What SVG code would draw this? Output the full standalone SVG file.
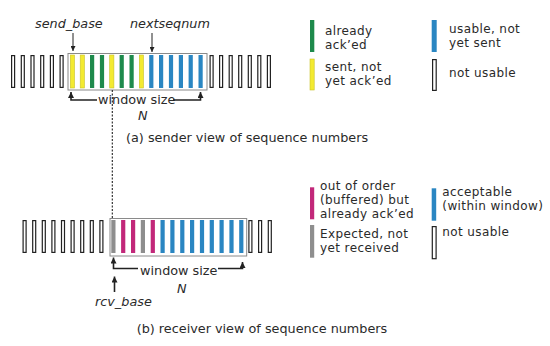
<svg xmlns="http://www.w3.org/2000/svg" width="550" height="346" viewBox="0 0 550 346">
<defs>
<style>
text{font-family:"DejaVu Sans","Liberation Sans",sans-serif;font-size:12.8px;fill:#2a2a2a}
.lg{font-size:12px;letter-spacing:0.4px}
.it{font-style:italic}
.nu{fill:#fff;stroke:#222;stroke-width:1.2}
.g{fill:#1e8a4c}
.y{fill:#f3ea30;stroke:#c9c22a;stroke-width:0.6}
.b{fill:#2a86c2}
.m{fill:#c2287a}
.gr{fill:#8e8e8e}
.box{fill:none;stroke:#8a8a8a;stroke-width:1}
.ln{fill:none;stroke:#222;stroke-width:1.6}
.thin{fill:none;stroke:#222;stroke-width:1}
</style>
<marker id="ah" viewBox="0 0 10 10" refX="10" refY="5" markerWidth="6" markerHeight="6" markerUnits="userSpaceOnUse" orient="auto">
<path d="M0,0 L10,5 L0,10 z" fill="#222"/>
</marker>
<marker id="ahs" viewBox="0 0 10 10" refX="10" refY="5" markerWidth="5" markerHeight="5" markerUnits="userSpaceOnUse" orient="auto">
<path d="M0,0 L10,5 L0,10 z" fill="#222"/>
</marker>
</defs>
<rect width="550" height="346" fill="#fff"/>

<g id="sender">
<g id="sender-left">
<rect class="nu" x="11.6" y="55.6" width="3" height="31.8"/>
<rect class="nu" x="21.3" y="55.6" width="3" height="31.8"/>
<rect class="nu" x="31" y="55.6" width="3" height="31.8"/>
<rect class="nu" x="40.7" y="55.6" width="3" height="31.8"/>
<rect class="nu" x="50.4" y="55.6" width="3" height="31.8"/>
<rect class="nu" x="60.1" y="55.6" width="3" height="31.8"/>
</g>
<g id="sender-window">
<rect class="y" x="70.3" y="55" width="4.2" height="33"/>
<rect class="y" x="80.2" y="55" width="4.2" height="33"/>
<rect class="g" x="90" y="55" width="4.2" height="33"/>
<rect class="g" x="99.9" y="55" width="4.2" height="33"/>
<rect class="y" x="109.7" y="55" width="4.2" height="33"/>
<rect class="g" x="119.6" y="55" width="4.2" height="33"/>
<rect class="g" x="129.5" y="55" width="4.2" height="33"/>
<rect class="y" x="139.3" y="55" width="4.2" height="33"/>
<rect class="b" x="149.2" y="55" width="4.2" height="33"/>
<rect class="b" x="159" y="55" width="4.2" height="33"/>
<rect class="b" x="168.9" y="55" width="4.2" height="33"/>
<rect class="b" x="178.8" y="55" width="4.2" height="33"/>
<rect class="b" x="188.6" y="55" width="4.2" height="33"/>
<rect class="b" x="198.5" y="55" width="4.2" height="33"/>
<rect class="box" x="68" y="53.5" width="139" height="36.5"/>
</g>
<g id="sender-right">
<rect class="nu" x="210.1" y="55.6" width="3" height="31.8"/>
<rect class="nu" x="219.6" y="55.6" width="3" height="31.8"/>
<rect class="nu" x="229.2" y="55.6" width="3" height="31.8"/>
<rect class="nu" x="238.7" y="55.6" width="3" height="31.8"/>
<rect class="nu" x="248.3" y="55.6" width="3" height="31.8"/>
<rect class="nu" x="257.8" y="55.6" width="3" height="31.8"/>
<rect class="nu" x="267.4" y="55.6" width="3" height="31.8"/>
</g>
</g>

<g id="send_base"><text class="it" x="35" y="27.5">send_base</text></g>
<g id="nextseqnum"><text class="it" x="130" y="27.5">nextseqnum</text></g>
<g id="sender-window-size">
<text x="98" y="104">window size</text>
<text class="it" x="138" y="120">N</text>
</g>
<g id="caption-a"><text x="126" y="141.5">(a) sender view of sequence numbers</text></g>

<g id="receiver">
<g id="receiver-left">
<rect class="nu" x="23.1" y="220.6" width="3" height="31.8"/>
<rect class="nu" x="32.7" y="220.6" width="3" height="31.8"/>
<rect class="nu" x="42.3" y="220.6" width="3" height="31.8"/>
<rect class="nu" x="51.9" y="220.6" width="3" height="31.8"/>
<rect class="nu" x="61.5" y="220.6" width="3" height="31.8"/>
<rect class="nu" x="71.1" y="220.6" width="3" height="31.8"/>
<rect class="nu" x="80.7" y="220.6" width="3" height="31.8"/>
<rect class="nu" x="90.3" y="220.6" width="3" height="31.8"/>
<rect class="nu" x="99.9" y="220.6" width="3" height="31.8"/>
</g>
<g id="receiver-window">
<rect class="gr" x="111.3" y="220" width="4.2" height="33"/>
<rect class="m" x="121.1" y="220" width="4.2" height="33"/>
<rect class="m" x="131" y="220" width="4.2" height="33"/>
<rect class="gr" x="140.8" y="220" width="4.2" height="33"/>
<rect class="m" x="150.7" y="220" width="4.2" height="33"/>
<rect class="b" x="160.5" y="220" width="4.2" height="33"/>
<rect class="b" x="170.3" y="220" width="4.2" height="33"/>
<rect class="b" x="180.2" y="220" width="4.2" height="33"/>
<rect class="b" x="190" y="220" width="4.2" height="33"/>
<rect class="b" x="199.9" y="220" width="4.2" height="33"/>
<rect class="b" x="209.7" y="220" width="4.2" height="33"/>
<rect class="b" x="219.5" y="220" width="4.2" height="33"/>
<rect class="b" x="229.4" y="220" width="4.2" height="33"/>
<rect class="b" x="239.2" y="220" width="4.2" height="33"/>
<rect class="box" x="110" y="218.5" width="136.7" height="37.5"/>
</g>
<g id="receiver-right">
<rect class="nu" x="248.9" y="220.6" width="3" height="31.8"/>
<rect class="nu" x="258.6" y="220.6" width="3" height="31.8"/>
<rect class="nu" x="268.3" y="220.6" width="3" height="31.8"/>
</g>
</g>

<g id="receiver-window-size">
<text x="140" y="275">window size</text>
<text class="it" x="177" y="293">N</text>
</g>
<g id="rcv_base"><text class="it" x="95" y="306">rcv_base</text></g>
<g id="caption-b"><text x="136.7" y="333">(b) receiver view of sequence numbers</text></g>

<g id="connectors">
<path class="thin" d="M73,33 V51" marker-end="url(#ahs)"/>
<path class="thin" d="M152,33 V52" marker-end="url(#ahs)"/>
<path class="ln" d="M97,100 H71 V92" marker-end="url(#ah)"/>
<path class="ln" d="M173,100 H200.5 V92" marker-end="url(#ah)"/>
<path d="M112.3,90 V218.5" fill="none" stroke="#222" stroke-width="1.1" stroke-dasharray="2 1.5"/>
<path class="ln" d="M138,268.5 H113.5 V257.5" marker-end="url(#ah)"/>
<path class="ln" d="M218,268.5 H242.5 V262" marker-end="url(#ah)"/>
<path class="ln" d="M114.5,292 V276.5" marker-end="url(#ah)"/>
</g>

<g id="legend-sender">
<g id="leg-acked"><rect class="g" x="310" y="20" width="4.3" height="32"/><text class="lg" x="325" y="34.5">already</text><text class="lg" x="325" y="48.5">ack’ed</text></g>
<g id="leg-sent"><rect class="y" x="310" y="59" width="4.2" height="31"/><text class="lg" x="325" y="70.5">sent, not</text><text class="lg" x="325" y="84.5">yet ack’ed</text></g>
<g id="leg-usable"><rect class="b" x="431.7" y="20" width="5" height="32"/><text class="lg" x="449" y="33">usable, not</text><text class="lg" x="449" y="47">yet sent</text></g>
<g id="leg-notusable-s"><rect class="nu" x="432.6" y="59.6" width="3.6" height="30.8"/><text class="lg" x="449" y="76.7">not usable</text></g>
</g>

<g id="legend-receiver">
<g id="leg-ooo"><rect class="m" x="310" y="187.3" width="4.2" height="32"/><text class="lg" x="320" y="190">out of order</text><text class="lg" x="320" y="204">(buffered) but</text><text class="lg" x="320" y="218">already ack’ed</text></g>
<g id="leg-expected"><rect class="gr" x="310" y="225" width="4.2" height="32.7"/><text class="lg" x="320" y="237.5">Expected, not</text><text class="lg" x="320" y="251.5">yet received</text></g>
<g id="leg-acceptable"><rect class="b" x="431.7" y="188.3" width="4.5" height="32.4"/><text class="lg" x="442.3" y="196">acceptable</text><text class="lg" x="442.3" y="210">(within window)</text></g>
<g id="leg-notusable-r"><rect class="nu" x="432.3" y="226.6" width="3.8" height="32.1"/><text class="lg" x="442.3" y="235.7">not usable</text></g>
</g>
</svg>
